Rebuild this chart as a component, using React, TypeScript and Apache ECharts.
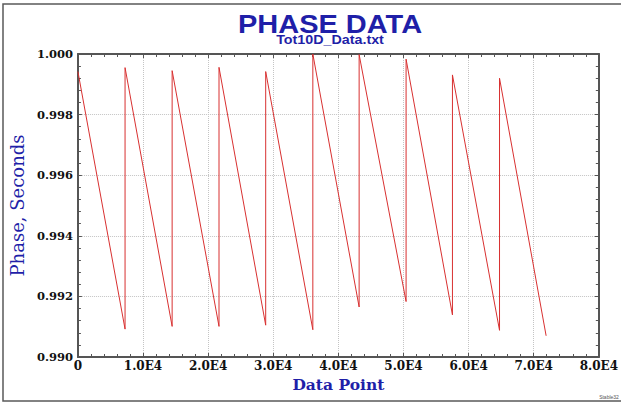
import React, { useEffect, useRef } from "react";
import * as echarts from "echarts";

// ---- Data ----
const cycleStartX = [0, 7240, 14470, 21670, 28840, 36080, 43190, 50400, 57520, 64750];
const cycleEndX = [7240, 14470, 21670, 28840, 36080, 43190, 50400, 57520, 64750, 71910];
const peakValues = [0.99942, 0.99955, 0.99945, 0.99956, 0.99942, 1.0, 0.99998, 0.99983, 0.99931, 0.9992];
const troughValues = [0.99092, 0.99101, 0.99101, 0.99105, 0.9909, 0.99165, 0.99183, 0.99139, 0.99088, 0.9907];

const xTickLabels = ["0", "1.0E4", "2.0E4", "3.0E4", "4.0E4", "5.0E4", "6.0E4", "7.0E4", "8.0E4"];
const yTickLabels = ["0.990", "0.992", "0.994", "0.996", "0.998", "1.000"];

const titleText = "PHASE DATA";
const subtitleText = "Tot10D_Data.txt";
const xAxisName = "Data Point";
const yAxisName = "Phase, Seconds";
const footerText = "Stable32";

const X_MIN = 0;
const X_MAX = 80000;
const X_STEP = 10000;
const Y_MIN = 0.99;
const Y_MAX = 1.0;
const Y_STEP = 0.002;

const BLUE = "#1f1fa8";
const AXIS = "#555555";

export default function App() {
  const ref = useRef<HTMLDivElement>(null);

  useEffect(() => {
    if (!ref.current) return;
    const chart = echarts.init(ref.current, undefined, { renderer: "svg" });

    const points: [number, number][] = [];
    for (let i = 0; i < cycleStartX.length; i++) {
      points.push([cycleStartX[i], peakValues[i]]);
      points.push([cycleEndX[i], troughValues[i]]);
    }

    const tickCommon = {
      show: true,
      inside: true,
      length: 4,
      lineStyle: { color: AXIS, width: 1 },
    };
    const minorCommon = {
      show: true,
      splitNumber: 5,
      length: 3,
      lineStyle: { color: AXIS, width: 1 },
    };
    const lineCommon = { show: true, onZero: false, lineStyle: { color: AXIS, width: 2 } };
    const labelFont = {
      fontFamily: "DejaVu Serif",
      fontWeight: "bold" as const,
      fontSize: 12,
      color: "#111111",
    };

    chart.setOption({
      animation: false,
      backgroundColor: "#ffffff",
      grid: { left: 74, top: 54, width: 529, height: 303, containLabel: false },
      xAxis: [
        {
          type: "value",
          position: "bottom",
          min: X_MIN,
          max: X_MAX,
          interval: X_STEP,
          axisLine: lineCommon,
          axisTick: tickCommon,
          minorTick: minorCommon,
          splitLine: { show: true, lineStyle: { color: "#c4c4c4", type: "dotted", width: 1 } },
          axisLabel: {
            ...labelFont,
            margin: 3,
            formatter: (v: number) => xTickLabels[Math.round((v - X_MIN) / X_STEP)] ?? "",
          },
          name: xAxisName,
          nameLocation: "middle",
          nameGap: 14,
          nameTextStyle: {
            fontFamily: "DejaVu Serif",
            fontWeight: "bold",
            fontSize: 15.5,
            color: BLUE,
          },
        },
        {
          type: "value",
          position: "top",
          min: X_MIN,
          max: X_MAX,
          interval: X_STEP,
          axisLine: lineCommon,
          axisTick: tickCommon,
          minorTick: minorCommon,
          splitLine: { show: false },
          axisLabel: { show: false },
        },
      ],
      yAxis: [
        {
          type: "value",
          position: "left",
          min: Y_MIN,
          max: Y_MAX,
          interval: Y_STEP,
          axisLine: lineCommon,
          axisTick: tickCommon,
          minorTick: minorCommon,
          splitLine: { show: true, lineStyle: { color: "#c4c4c4", type: "dotted", width: 1 } },
          axisLabel: {
            ...labelFont,
            fontSize: 11.5,
            margin: 5,
            formatter: (v: number) => yTickLabels[Math.round((v - Y_MIN) / Y_STEP)] ?? "",
          },
          name: yAxisName,
          nameLocation: "middle",
          nameGap: 50,
          nameTextStyle: {
            fontFamily: "DejaVu Serif",
            fontWeight: "normal",
            fontSize: 18,
            color: BLUE,
          },
        },
        {
          type: "value",
          position: "right",
          min: Y_MIN,
          max: Y_MAX,
          interval: Y_STEP,
          axisLine: lineCommon,
          axisTick: tickCommon,
          minorTick: minorCommon,
          splitLine: { show: false },
          axisLabel: { show: false },
        },
      ],
      graphic: [
        {
          type: "rect",
          shape: { x: 3, y: 4, width: 640, height: 397 },
          style: { fill: "none", stroke: "#5a5a5a", lineWidth: 1.5 },
          silent: true,
          z: -1,
        },
        {
          type: "text",
          x: 330,
          y: 24,
          scaleX: 1.16,
          style: {
            text: titleText,
            fontFamily: "Liberation Sans",
            fontWeight: "bold",
            fontSize: 25,
            lineHeight: 20,
            fill: BLUE,
            textAlign: "center",
            textVerticalAlign: "middle",
          },
        },
        {
          type: "text",
          x: 330,
          y: 40,
          scaleX: 1.1,
          style: {
            text: subtitleText,
            fontFamily: "Liberation Sans",
            fontWeight: "bold",
            fontSize: 13,
            lineHeight: 11,
            fill: BLUE,
            textAlign: "center",
            textVerticalAlign: "middle",
          },
        },
        {
          type: "text",
          x: 609,
          y: 397,
          style: {
            text: footerText,
            fontSize: 5,
            fontFamily: "Liberation Sans",
            fill: "#555555",
            textAlign: "center",
            textVerticalAlign: "middle",
          },
        },
      ],
      series: [
        {
          type: "line",
          xAxisIndex: 0,
          yAxisIndex: 0,
          data: points,
          showSymbol: false,
          symbol: "none",
          clip: false,
          lineStyle: { color: "#d83030", width: 1 },
        },
      ],
    });

    return () => chart.dispose();
  }, []);

  return (
    <div
      ref={ref}
      style={{ position: "absolute", left: 0, top: 0, width: 621, height: 408 }}
    />
  );
}
